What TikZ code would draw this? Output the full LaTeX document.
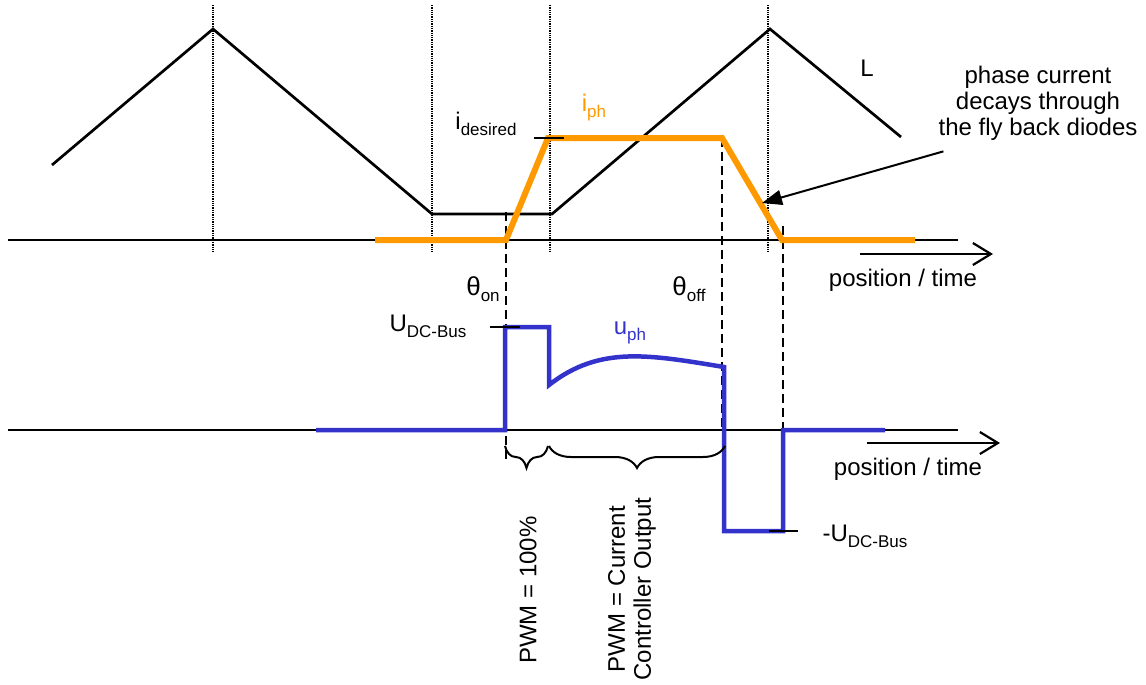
\documentclass[tikz,border=0pt]{standalone}
\usepackage{fontspec}
\setmainfont{Liberation Sans}
\usetikzlibrary{arrows.meta, decorations.pathreplacing, positioning}

\definecolor{iorange}{RGB}{255,153,0}
\definecolor{ublue}{RGB}{51,51,204}
\newcommand{\subtxt}[1]{\raisebox{-6pt}{\fontsize{17}{17}\selectfont #1}}

\begin{document}
\begin{tikzpicture}[x=1pt, y=-1pt,
        font = \fontsize{24}{26}\selectfont,
 lwave/.style = {line width=2.7pt},
 iwave/.style = {draw=iorange, line width=6pt},
 uwave/.style = {draw=ublue, line width=4.5pt},
 axisl/.style = {line width=2.2pt},
posarr/.style = {line width=2.2pt, -{Straight Barb[length=18pt,width=22pt]}},
 guide/.style = {densely dotted, line width=1.3pt},
   cut/.style = {dash pattern=on 9pt off 5pt, line width=1.6pt},
   lvl/.style = {line width=2pt},
   brc/.style = {decorate, decoration={brace, mirror, amplitude=22pt},
                 line width=2pt},
   lbl/.style = {inner sep=0pt}
                        ]
\useasboundingbox (0,0) rectangle (1146,685);
% inductance profile and rotor positions
\foreach \gx in {213,432,550,768}
  \draw[guide] (\gx,5) -- (\gx,252);
\draw[lwave] (52,165) -- (213,29) -- (432,214) -- (552,214) -- (770,29) -- (901,137);
\node (ind) [lbl] at (867,68) {L};
% axes
\draw[axisl] (8,240) -- (958,240);
\draw[axisl] (8,430) -- (958,430);
\draw[posarr] (860,254) -- (993,254);
\draw[posarr] (867,443) -- (1000,443);
\node (pos1) [lbl] at (903,280) {position / time};
\node (pos2) [lbl] at (908,469) {position / time};
% switching angles
\draw[cut] (506,212) -- (506,462);
\draw[cut] (722,138) -- (722,430);
\draw[cut] (783,226) -- (783,430);
\node (thon) [lbl, font=\fontsize{26}{26}\selectfont] at (483,289) {θ\subtxt{on}};
\node (thoff) [lbl, font=\fontsize{26}{26}\selectfont] at (689,289) {θ\subtxt{off}};
% phase current
\draw[iwave] (375,240) -- (506,240) -- (548,138) -- (722,138) -- (782,240) -- (915,240);
\draw[lvl] (534,138) -- (564,138);
\node (idsr) [lbl] at (486,124) {i\subtxt{desired}};
\node (iph) [lbl, text=iorange] at (594,108) {i\subtxt{ph}};
% phase voltage
\draw[uwave] (316,430) -- (505,430) -- (505,327) -- (549,327) -- (549,385)
   .. controls (600,345) and (650,355) .. (724,367) -- (724,531) -- (783,531)
   -- (783,430) -- (885,430);
\draw[lvl] (490,327) -- (520,327);
\draw[lvl] (769,531) -- (798,531);
\node (udc) [lbl] at (428,326) {U\subtxt{DC-Bus}};
\node (mudc) [lbl] at (865,536) {-U\subtxt{DC-Bus}};
\node (uph) [lbl, text=ublue] at (630,333) {u\subtxt{ph}};
% note
\node (note) [lbl, align=center] at (1038,103)
  {phase current\\decays through\\the fly back diodes};
\coordinate (decay) at (762,203);
\draw[line width=2pt, -{Triangle[length=20pt,width=15pt]}]
  ([xshift=5pt,yshift=-11pt]note.south west) -- (decay);
% PWM ranges
\draw[brc] (505,446) -- (548,446);
\draw[brc] (549,446) -- (725,446);
\node (pwmfull) [lbl, rotate=90] at (528,590) {PWM = 100\%};
\node (pwmctl) [lbl, rotate=90, align=center] at (632,589)
  {PWM = Current\\Controller Output};
\end{tikzpicture}
\end{document}
